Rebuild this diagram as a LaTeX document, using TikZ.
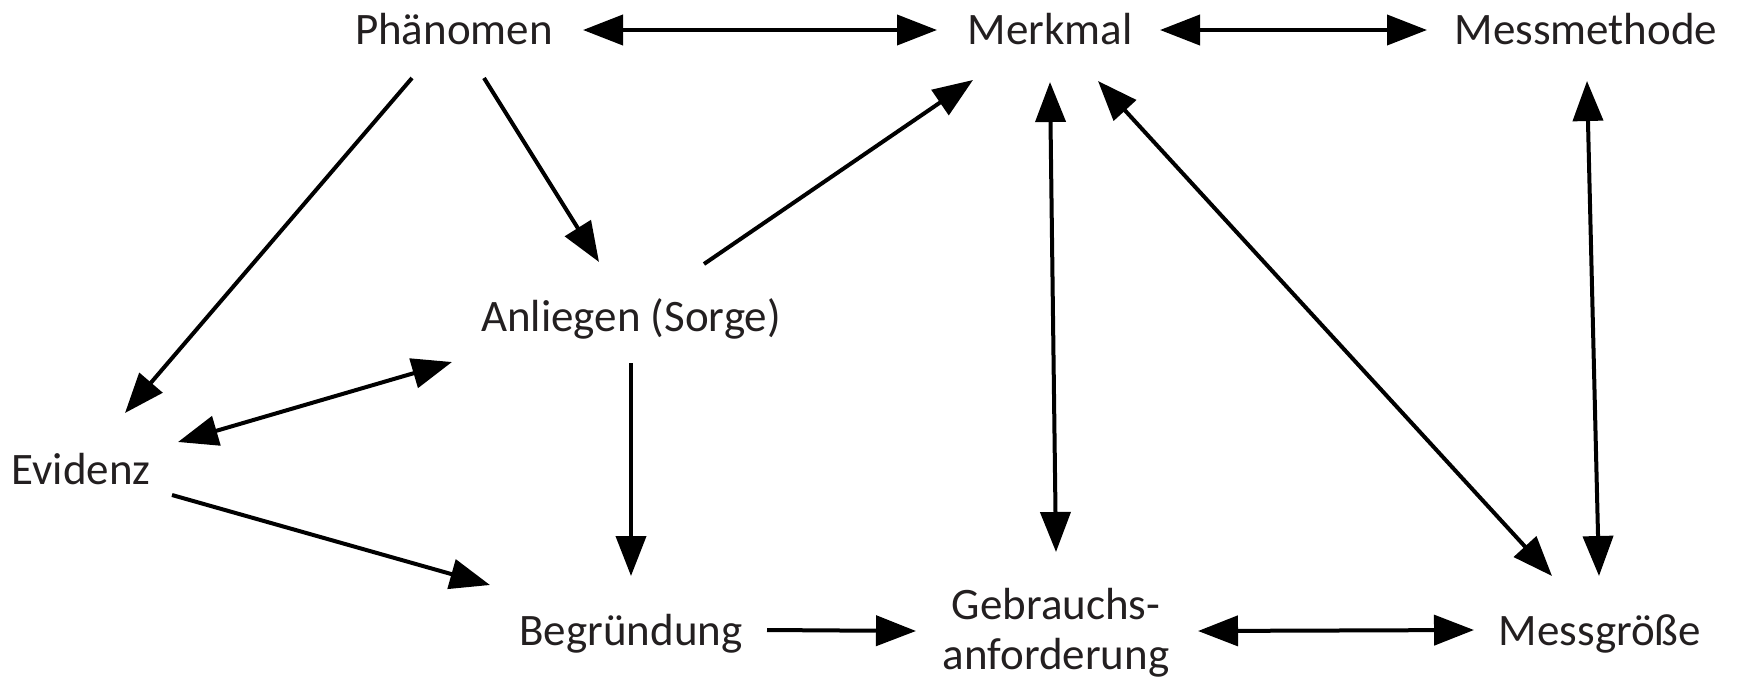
\documentclass[tikz,border=0pt]{standalone}
\usepackage{fontspec}
\setmainfont{Carlito}
\usetikzlibrary{arrows.meta,calc}
\definecolor{txt}{HTML}{231F20}
\tikzset{
  lbl/.style={anchor=base,inner sep=0pt,text=txt,font=\fontsize{45}{50}\selectfont},
  con/.style={line width=4pt,draw=black,-{Triangle[length=40pt,width=30pt]}},
  bicon/.style={line width=4pt,draw=black,{Triangle[length=40pt,width=30pt]}-{Triangle[length=40pt,width=30pt]}}
}
\begin{document}
\begin{tikzpicture}[x=1pt,y=-1pt]
\useasboundingbox (0,0) rectangle (1737,681);
\node[lbl] (p) at (454,44) {Phänomen};
\node[lbl] (m) at (1050,44) {Merkmal};
\node[lbl] (mm) at (1586,44) {Messmethode};
\node[lbl] (a) at (631,331) {Anliegen (Sorge)};
\node[lbl] (e) at (81,484) {Evidenz};
\node[lbl] (b) at (631,645) {Begründung};
\node[lbl,align=center] (g) at (1056,669) {Gebrauchs-\\anforderung};
\node[lbl] (mg) at (1600,645) {Messgröße};

\draw[bicon] ($(p.base)+(129,-14)$) -- ($(m.base)+(-113,-14)$);
\draw[bicon] ($(m.base)+(110,-14)$) -- ($(mm.base)+(-159,-14)$);
\draw[con] ($(p.base)+(-42,34)$) -- ($(e.base)+(44,-71)$);
\draw[con] ($(p.base)+(30,34)$) -- ($(a.base)+(-32,-69)$);
\draw[con] ($(a.base)+(73,-67)$) -- ($(m.base)+(-77,36)$);
\draw[bicon] ($(e.base)+(97,-42)$) -- ($(a.base)+(-179,31)$);
\draw[con] ($(e.base)+(91,11)$) -- ($(b.base)+(-141,-60)$);
\draw[con] ($(a.base)+(0,32)$) -- ($(b.base)+(0,-69)$);
\draw[con] ($(b.base)+(136,-15)$) -- ($(g.base)+(-140,-38)$);
\draw[bicon] ($(g.base)+(142,-38)$) -- ($(mg.base)+(-126,-15)$);
\draw[bicon] ($(m.base)+(0,38)$) -- ($(g.base)+(0,-117)$);
\draw[bicon] ($(m.base)+(48,37)$) -- ($(mg.base)+(-48,-69)$);
\draw[bicon] ($(mm.base)+(1,37)$) -- ($(mg.base)+(-1,-69)$);
\end{tikzpicture}
\end{document}
